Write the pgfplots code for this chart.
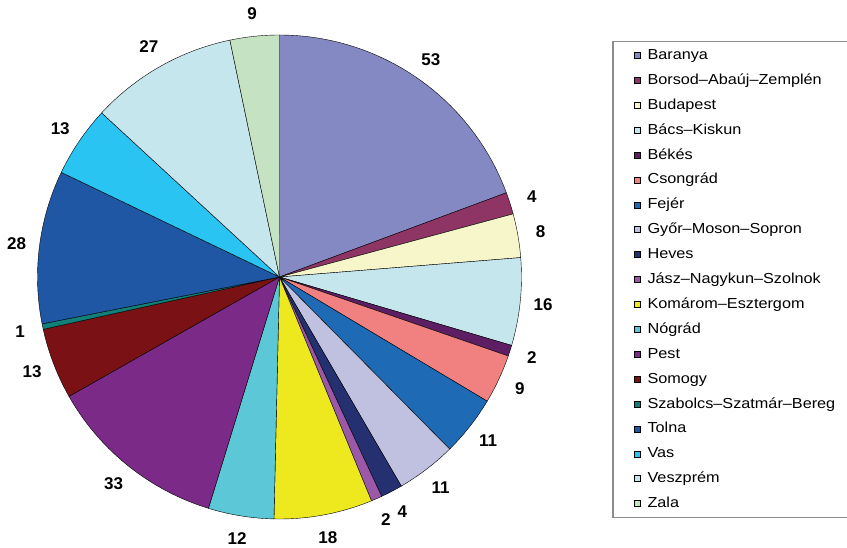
\documentclass[border=0pt]{standalone}
\usepackage{pgfplots}
\pgfplotsset{compat=1.18}
\usepackage{fontspec}
\setmainfont{Liberation Sans}
\newfontfamily\legfont[FakeStretch=1.12]{Liberation Sans}
\definecolor{cbaranya}{HTML}{8589C3}
\definecolor{cborsod}{HTML}{8E3566}
\definecolor{cbudapest}{HTML}{F7F5CA}
\definecolor{cbacs}{HTML}{C4E6EC}
\definecolor{cbekes}{HTML}{5D1E64}
\definecolor{ccsongrad}{HTML}{F18180}
\definecolor{cfejer}{HTML}{1F6AB5}
\definecolor{cgyor}{HTML}{C0C1E0}
\definecolor{cheves}{HTML}{243070}
\definecolor{cjasz}{HTML}{9B58A8}
\definecolor{ckomarom}{HTML}{EDE91E}
\definecolor{cnograd}{HTML}{5CC7D6}
\definecolor{cpest}{HTML}{7B2A88}
\definecolor{csomogy}{HTML}{7A1215}
\definecolor{cszabolcs}{HTML}{128079}
\definecolor{ctolna}{HTML}{1F57A5}
\definecolor{cvas}{HTML}{29C4F1}
\definecolor{cveszprem}{HTML}{C4E6EC}
\definecolor{czala}{HTML}{C5E2C2}
\definecolor{legborder}{HTML}{8C8C8C}
\newcommand\lblfont{\bfseries\fontsize{17}{17}\selectfont}
\begin{document}
\begin{tikzpicture}
\useasboundingbox (0,0) rectangle (847pt,548pt);
\begin{axis}[width=847pt,height=548pt,scale only axis,hide axis,clip=false,
  at={(0,0)},anchor=south west,
  xmin=0,xmax=847,ymin=0,ymax=548,
  legend cell align=left,
  legend style={at={(axis description cs:0.7230,0.9257)},anchor=north west,
    draw=legborder,line width=1.4pt,font=\legfont\fontsize{14.5}{16}\selectfont,
    inner xsep=14pt,inner ysep=5pt,row sep=6.9pt,column sep=5pt,
    nodes={inner sep=2pt,text height=11pt,text depth=3pt}},
  legend image code/.code={\path (-7pt,0pt); \draw[#1,draw=black,line width=0.5pt] (0pt,-3pt) rectangle (6pt,3pt);}
]
\def\total{274}
\xdef\cum{0}
\foreach \v/\c/\n in {53/cbaranya/Baranya,4/cborsod/Borsod–Abaúj–Zemplén,8/cbudapest/Budapest,16/cbacs/Bács–Kiskun,2/cbekes/Békés,9/ccsongrad/Csongrád,11/cfejer/Fejér,11/cgyor/Győr–Moson–Sopron,4/cheves/Heves,2/cjasz/Jász–Nagykun–Szolnok,18/ckomarom/Komárom–Esztergom,12/cnograd/Nógrád,33/cpest/Pest,13/csomogy/Somogy,1/cszabolcs/Szabolcs–Szatmár–Bereg,28/ctolna/Tolna,13/cvas/Vas,27/cveszprem/Veszprém,9/czala/Zala}{
  \pgfmathsetmacro\ta{90-(360/\total)*(\cum+\v)}
  \pgfmathsetmacro\tb{90-(360/\total)*\cum}
  \pgfmathsetmacro\tm{(\ta+\tb)/2}
  \pgfmathsetmacro\lx{279.5+265*cos(\tm)}
  \pgfmathsetmacro\ly{271+265*sin(\tm)}
  \edef\tmp{\noexpand\addplot[fill=\c,draw=black,line width=0.4pt,domain=\ta:\tb,samples=60] ({279.5+242*cos(x)},{271+242*sin(x)}) -- (axis cs:279.5,271) -- cycle;
  \noexpand\addlegendentry{\n}
  \noexpand\node[font=\noexpand\lblfont] at (axis cs:\lx,\ly) {\v};}
  \tmp
  \pgfmathsetmacro\newcum{\cum+\v}\xdef\cum{\newcum}
}
\end{axis}
\end{tikzpicture}
\end{document}
